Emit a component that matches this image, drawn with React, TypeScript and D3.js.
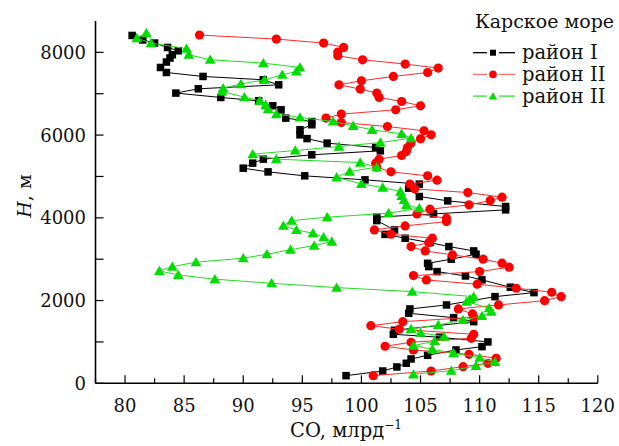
import React from "react";
import * as d3 from "d3";

// район I (black squares)
const blackH = [185, 297, 395, 484, 588, 677, 805, 886, 1000, 1113, 1185, 1282, 1490, 1587, 1693, 1797, 1894, 2095, 2192, 2322, 2500, 2595, 2700, 2820, 2900, 3000, 3120, 3200, 3305, 3400, 3507, 3600, 3708, 3933, 4015, 4095, 4192, 4273, 4410, 4515, 4717, 4815, 4918, 5015, 5110, 5200, 5322, 5418, 5523, 5620, 5700, 5805, 5915, 6006, 6128, 6250, 6328, 6410, 6611, 6708, 6829, 6909, 7015, 7119, 7215, 7337, 7417, 7513, 7634, 7765, 7862, 7942, 8038, 8118, 8225, 8300, 8408];
const blackCO = [98.7, 101.8, 103.0, 103.8, 104.2, 105.6, 108.0, 110.2, 110.7, 106.6, 102.7, 102.8, 109.5, 107.8, 104.0, 104.1, 107.2, 111.3, 114.6, 112.6, 110.2, 108.8, 106.4, 105.7, 105.6, 107.6, 109.7, 109.5, 107.4, 105.8, 103.7, 102.0, 102.8, 101.3, 101.3, 106.1, 112.2, 112.2, 107.3, 104.9, 104.0, 104.9, 100.3, 95.2, 92.1, 90.0, 90.8, 91.7, 95.8, 101.6, 101.2, 97.1, 95.4, 94.8, 94.8, 95.8, 95.8, 93.6, 93.2, 92.5, 91.3, 88.1, 84.3, 86.2, 93.0, 91.7, 86.6, 83.5, 83.0, 83.5, 83.8, 84.0, 84.5, 83.6, 82.5, 81.5, 80.6];

// район II (red circles)
const redH = [185, 297, 402, 484, 605, 701, 805, 895, 992, 1088, 1185, 1306, 1393, 1490, 1597, 1676, 1797, 1894, 1998, 2095, 2201, 2298, 2395, 2499, 2603, 2700, 2806, 2903, 3000, 3104, 3200, 3305, 3400, 3507, 3604, 3708, 3805, 3909, 3991, 4095, 4209, 4313, 4417, 4499, 4611, 4700, 4815, 4911, 5015, 5111, 5225, 5322, 5418, 5506, 5602, 5699, 5806, 5910, 6006, 6103, 6207, 6304, 6410, 6507, 6611, 6708, 6812, 6909, 7015, 7112, 7216, 7312, 7417, 7513, 7620, 7717, 7820, 7917, 8007, 8118, 8225, 8321, 8418];
const redCO = [101.0, 105.9, 108.6, 110.7, 111.4, 109.1, 104.4, 102.0, 104.2, 109.3, 109.5, 103.2, 100.8, 103.5, 109.5, 109.4, 108.2, 111.6, 115.5, 116.9, 116.1, 113.1, 109.8, 105.5, 104.4, 110.0, 112.5, 111.9, 110.3, 107.7, 105.4, 104.2, 105.7, 106.0, 102.5, 101.1, 103.7, 107.2, 107.2, 104.7, 105.8, 109.1, 110.9, 111.9, 109.0, 104.5, 104.1, 106.4, 105.6, 102.5, 101.3, 101.2, 101.5, 103.4, 103.8, 103.9, 104.2, 105.0, 105.9, 105.3, 102.2, 98.3, 97.0, 98.3, 102.9, 105.0, 103.4, 101.5, 101.3, 99.9, 98.1, 100.0, 102.7, 105.6, 106.5, 103.7, 100.1, 98.0, 98.0, 98.5, 96.8, 92.8, 86.3];

// район II (green triangles)
const greenH = [218, 305, 418, 515, 620, 726, 822, 910, 1023, 1127, 1224, 1313, 1410, 1531, 1628, 1733, 1814, 1974, 2032, 2095, 2216, 2313, 2419, 2516, 2620, 2716, 2821, 2927, 3024, 3120, 3230, 3329, 3426, 3531, 3628, 3708, 3812, 3933, 4015, 4112, 4233, 4313, 4434, 4531, 4635, 4732, 4821, 4980, 5119, 5225, 5336, 5418, 5540, 5627, 5723, 5820, 5926, 6031, 6128, 6224, 6328, 6426, 6507, 6628, 6732, 6829, 6918, 7054, 7136, 7233, 7337, 7458, 7538, 7635, 7740, 7821, 7942, 8087, 8225, 8345, 8466];
const greenCO = [104.4, 107.6, 109.7, 111.3, 110.0, 107.8, 106.0, 104.4, 106.2, 107.0, 105.0, 104.2, 106.5, 108.6, 110.2, 111.0, 110.8, 108.9, 109.2, 109.5, 104.3, 97.9, 92.4, 87.6, 84.5, 82.9, 84.0, 86.0, 90.0, 92.0, 94.0, 96.0, 97.5, 96.8, 95.9, 94.5, 93.4, 94.1, 97.1, 102.3, 104.9, 103.8, 103.6, 103.4, 103.3, 101.8, 100.0, 97.9, 99.0, 101.3, 99.9, 92.8, 90.8, 94.4, 98.1, 101.6, 104.2, 103.4, 100.9, 99.3, 97.6, 94.8, 92.8, 92.1, 91.9, 91.4, 90.1, 88.2, 88.3, 89.8, 91.8, 93.3, 94.5, 94.8, 91.7, 87.2, 85.4, 85.2, 82.2, 81.0, 81.8];

const xMajor = [80, 85, 90, 95, 100, 105, 110, 115, 120];
const xMinor = [77.5, 82.5, 87.5, 92.5, 97.5, 102.5, 107.5, 112.5, 117.5];
const yMajor = [0, 2000, 4000, 6000, 8000];
const yMinor = [1000, 3000, 5000, 7000];

const legendTitle = "Карское море";
const legendLabels = ["район I", "район II", "район II"];

const FONT = "'DejaVu Serif', serif";

export default function App() {
  const x = d3.scaleLinear().domain([77.5, 120]).range([95.5, 597.8]);
  const y = d3.scaleLinear().domain([0, 8760]).range([383.3, 20.9]);

  const mk = (hs: number[], cs: number[]) => hs.map((h, i) => [cs[i], h] as [number, number]);
  const series = [
    { pts: mk(blackH, blackCO), line: "#000000", fill: "#000000", shape: "square", leg: "#000000" },
    { pts: mk(redH, redCO), line: "#ff2a2a", fill: "#ff0000", shape: "circle", leg: "#ff7070" },
    { pts: mk(greenH, greenCO), line: "#22dd22", fill: "#00dd00", shape: "triangle", leg: "#33e033" },
  ];
  const line = d3.line<[number, number]>().x((d) => x(d[0])).y((d) => y(d[1]));
  const tri = d3.symbol().type(d3.symbolTriangle).size(50)()!;
  const triSmall = d3.symbol().type(d3.symbolTriangle).size(30)()!;

  const marker = (shape: string, cx: number, cy: number, fill: string, key: any, small = false) => {
    if (shape === "square") {
      const s = small ? 6 : 7.5;
      return <rect key={key} x={cx - s / 2} y={cy - s / 2} width={s} height={s} fill={fill} />;
    }
    if (shape === "circle") {
      return <circle key={key} cx={cx} cy={cy} r={small ? 3.8 : 4.6} fill={fill} />;
    }
    return <path key={key} d={small ? triSmall : tri} transform={`translate(${cx},${cy + 1})`} fill={fill} />;
  };

  const x0 = x.range()[0];
  const y0 = y.range()[0];

  return (
    <svg width={619} height={446} style={{ position: "absolute", left: 0, top: 0, background: "#fff" }} fontFamily={FONT}>
      {/* axes */}
      <line x1={x0} y1={y0} x2={x.range()[1]} y2={y0} stroke="#000" strokeWidth={1.6} />
      <line x1={x0} y1={y0} x2={x0} y2={y.range()[1]} stroke="#000" strokeWidth={1.6} />
      {xMajor.map((v) => (
        <g key={"xm" + v}>
          <line x1={x(v)} x2={x(v)} y1={y0} y2={y0 - 8} stroke="#000" strokeWidth={1.2} />
          <text x={x(v)} y={412} textAnchor="middle" fontSize={18} fill="#111">{v}</text>
        </g>
      ))}
      {xMinor.map((v) => (
        <line key={"xn" + v} x1={x(v)} x2={x(v)} y1={y0} y2={y0 - 5} stroke="#000" strokeWidth={1.2} />
      ))}
      {yMajor.map((v) => (
        <g key={"ym" + v}>
          <line x1={x0} x2={x0 + 8} y1={y(v)} y2={y(v)} stroke="#000" strokeWidth={1.2} />
          <text x={86} y={y(v) + 6.5} textAnchor="end" fontSize={18} fill="#111">{v}</text>
        </g>
      ))}
      {yMinor.map((v) => (
        <line key={"yn" + v} x1={x0} x2={x0 + 8} y1={y(v)} y2={y(v)} stroke="#000" strokeWidth={1.2} />
      ))}
      {/* axis titles */}
      <text x={346} y={437} textAnchor="middle" fontSize={19.5} fill="#111">
        CO, млрд<tspan dy={-8} fontSize={12}>−1</tspan>
      </text>
      <text transform="translate(31,196) rotate(-90)" textAnchor="middle" fontSize={19} fill="#111">
        <tspan fontStyle="italic">H</tspan>, м
      </text>
      {/* series */}
      {series.map((s, si) => (
        <g key={"s" + si}>
          <path d={line(s.pts)!} fill="none" stroke={s.line} strokeWidth={1} />
          {s.pts.map((p, i) => marker(s.shape, x(p[0]), y(p[1]), s.fill, i))}
        </g>
      ))}
      {/* legend */}
      <text x={475} y={28} fontSize={19} fill="#111">{legendTitle}</text>
      {series.map((s, i) => {
        const ly = 52.7 + i * 21.7;
        return (
          <g key={"lg" + i}>
            <line x1={473} x2={487} y1={ly} y2={ly} stroke={s.leg} strokeWidth={1.3} />
            <line x1={499} x2={515} y1={ly} y2={ly} stroke={s.leg} strokeWidth={1.3} />
            {marker(s.shape, 493, ly, s.fill, "m" + i, true)}
            <text x={522} y={ly + 6.5} fontSize={19.5} fill="#111">{legendLabels[i]}</text>
          </g>
        );
      })}
    </svg>
  );
}
